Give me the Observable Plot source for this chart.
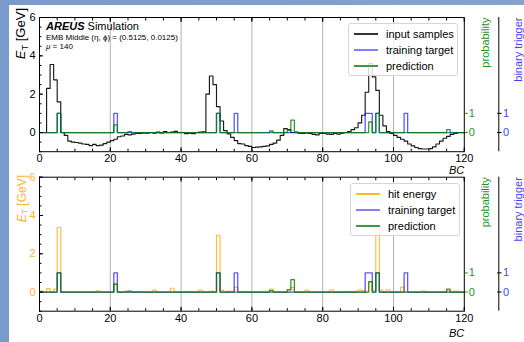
<!DOCTYPE html>
<html><head><meta charset="utf-8">
<script src="https://cdn.jsdelivr.net/npm/d3@7"></script>
<script src="https://cdn.jsdelivr.net/npm/@observablehq/plot@0.6"></script>
<style>
html,body{margin:0;padding:0;}
body{width:524px;height:342px;overflow:hidden;background:linear-gradient(90deg,#7a9acb,#86a3cc);font-family:"Liberation Sans",Arial,Helvetica,sans-serif;}
#page{position:absolute;left:9px;top:5px;width:515px;height:337px;background:#fff;}
.panel{position:absolute;left:0;}
.ann{position:absolute;white-space:nowrap;color:#000;}
.ylab{position:absolute;width:90px;text-align:right;transform-origin:0 0;transform:rotate(-90deg);line-height:14px;white-space:nowrap;}
.ylab sub{font-size:0.72em;line-height:0;vertical-align:-0.28em;}
.legend{position:absolute;border:1px solid #d6d6d6;border-radius:3px;background:rgba(255,255,255,0.82);}
.legend .row{position:absolute;left:0;height:0;}
.legend .sw{position:absolute;left:5px;width:24px;}
.legend .lab{position:absolute;left:37px;top:-7px;font-size:11px;line-height:14px;white-space:nowrap;color:#000;}
</style>
</head><body>
<div id="page">
  <div id="top" class="panel" style="top:0px"></div>
  <div id="bot" class="panel" style="top:165px"></div>
</div>
<script>
// ---------------- data ----------------
const bcMax = 120;
// top panel: input samples (E_T, GeV), one value per BC bin [i, i+1)
const inputSamples = [
  0.0, 0.0, 2.3, 3.55, 2.75, 1.6, 0.0, -0.15, -0.45, -0.5,
  -0.52, -0.55, -0.6, -0.62, -0.68, -0.62, -0.68, -0.66, -0.58, -0.5,
  -0.42, -0.35, -0.22, -0.18, -0.1, -0.12, -0.08, -0.05, -0.05, -0.02,
  -0.04, 0.0, -0.03, 0.02, -0.02, 0.05, 0.0, 0.03, 0.06, 0.0,
  0.0, -0.06, -0.03, -0.06, 0.0, 0.02, 0.04, 2.0, 2.95, 2.5,
  1.35, 0.6, 0.1, -0.07, -0.25, -0.42, -0.58, -0.6, -0.68, -0.72,
  -0.78, -0.76, -0.75, -0.72, -0.7, -0.62, -0.55, -0.4, -0.15, 0.2,
  0.15, 0.0, 0.02, -0.03, -0.05, -0.02, -0.05, -0.1, -0.12, -0.05,
  -0.05, -0.08, -0.1, -0.05, -0.08, -0.03, 0.0, 0.05, 0.15, 0.25,
  0.5, 0.9, 2.1, 3.6, 2.9, 2.2, 0.9, 0.35, 0.05, -0.05,
  -0.15, -0.25, -0.35, -0.45, -0.6, -0.7, -0.78, -0.84, -0.86, -0.86,
  -0.84, -0.75, -0.6, -0.45, -0.3, -0.2, -0.1, -0.05, 0.0, 0.0
];
// bottom panel: hit energy (E_T, GeV), sparse bins
const hitBins = [0, 2, 4, 5, 16, 21, 24, 27, 28, 32, 37, 41, 45, 48, 50, 51, 53, 54, 55, 58, 65, 71, 75, 82, 86, 89, 90, 91, 93, 94, 95, 96, 98, 102, 108, 115, 117];
const hitVals = [0.05, 0.18, 0.15, 3.37, 0.07, 0.45, 0.05, 0.03, 0.03, 0.1, 0.2, 0.03, 0.1, 0.05, 2.97, 0.1, 0.05, 0.04, 0.26, 0.03, 0.15, 0.23, 0.1, 0.12, 0.03, 0.04, 0.1, 0.08, 0.52, 0.1, 3.32, 0.1, 0.12, 0.26, 0.05, 0.06, 0.05];
// training target (binary trigger = 1)
const targetBins = [5, 21, 50, 55, 92, 93, 95, 103];
// prediction (probability)
const predBins = [5, 21, 25, 50, 65, 70, 71, 93, 95, 115];
const predVals = [1.0, 0.4, 0.05, 1.0, 0.08, 0.12, 0.65, 0.55, 1.0, 0.15];
// axes
const xTicks = [0, 20, 40, 60, 80, 100, 120];
const xGrid = [20, 40, 60, 80, 100];
const yTicks = [0, 2, 4, 6];
const probTicks = [0, 1];
const trigTicks = [0, 1];
const xMinor = d3.range(0, 121, 5);
const yMinor = d3.range(-1, 6.01, 0.5);

// ---------------- helpers ----------------
function dense(bins, vals) { const a = new Array(bcMax).fill(0); bins.forEach((b, i) => a[b] = vals ? vals[i] : 1); return a; }
function stairs(vals) { const p = vals.map((v, i) => ({bc: i, v})); p.push({bc: vals.length, v: vals[vals.length - 1]}); return p; }
const hitEnergy = dense(hitBins, hitVals);
const trainingTarget = dense(targetBins);
const prediction = dense(predBins, predVals);

const FONT = '"Liberation Sans", Arial, Helvetica, sans-serif';
const PROB = "#1f951f", TRIG = "#4343ff", ORANGE_TXT = "#ffb13d";

function panel({energy, eColor, eOpacity, tickFill, mt, mb, bcDy}) {
  return Plot.plot({
    width: 515, height: 172, marginTop: mt, marginBottom: mb, marginLeft: 30, marginRight: 60.2,
    x: {domain: [0, 120], label: null},
    y: {domain: [-1, 6], label: null},
    style: {background: "transparent", overflow: "visible", fontFamily: FONT, fontSize: "11px", color: "black"},
    marks: [
      Plot.gridX(xGrid, {stroke: "#b3b3b3", strokeOpacity: 1, strokeWidth: 1}),
      Plot.line(stairs(energy), {x: "bc", y: "v", curve: "step-after", stroke: eColor, strokeOpacity: eOpacity, strokeWidth: 1.15}),
      Plot.line(stairs(trainingTarget), {x: "bc", y: "v", curve: "step-after", stroke: "blue", strokeOpacity: 0.65, strokeWidth: 1.3}),
      Plot.line(stairs(prediction), {x: "bc", y: "v", curve: "step-after", stroke: "green", strokeOpacity: 0.8, strokeWidth: 1.3}),
      Plot.frame({stroke: "black", strokeWidth: 1}),
      Plot.axisX(xTicks, {anchor: "bottom", tickSize: 0, tickPadding: 2.5, label: null, fill: "black"}),
      Plot.axisX(xMinor, {anchor: "bottom", tickSize: 2.5, dy: -2.5, fill: "none", label: null}),
      Plot.axisX(xMinor, {anchor: "top", tickSize: 2.5, dy: 2.5, fill: "none", label: null}),
      Plot.axisX(xTicks, {anchor: "bottom", tickSize: 4, dy: -4, fill: "none", label: null}),
      Plot.axisX(xTicks, {anchor: "top", tickSize: 4, dy: 4, fill: "none", label: null}),
      Plot.axisY(yTicks, {anchor: "left", tickSize: 0, tickPadding: 4, fill: tickFill, label: null}),
      Plot.axisY(yMinor, {anchor: "left", tickSize: 2.5, dx: 2.5, fill: "none", label: null}),
      Plot.axisY(yTicks, {anchor: "left", tickSize: 4, dx: 4, fill: "none", label: null}),
      Plot.axisY(probTicks, {anchor: "right", tickSize: 3, tickPadding: 1.5, stroke: PROB, fill: PROB, label: null}),
      Plot.ruleX([120], {dx: 34.5, stroke: "black", strokeWidth: 1}),
      Plot.axisY(trigTicks, {anchor: "right", tickSize: 4.5, dx: 32.3, tickPadding: 2, stroke: "black", fill: TRIG, label: null}),
      Plot.text(["probability"], {frameAnchor: "top-right", dx: 16.9, rotate: -90, textAnchor: "end", fill: PROB, fontSize: 11}),
      Plot.text(["binary trigger"], {frameAnchor: "top-right", dx: 49.5, rotate: -90, textAnchor: "end", fill: TRIG, fontSize: 11}),
      Plot.text(["BC"], {frameAnchor: "bottom-right", dy: bcDy, textAnchor: "end", lineAnchor: "top", fontStyle: "italic", fontSize: 11, fill: "black"})
    ]
  });
}

document.getElementById("top").append(panel({energy: inputSamples, eColor: "black", eOpacity: 0.9, tickFill: "black", mt: 12, mb: 25.8, bcDy: 14}));
document.getElementById("bot").append(panel({energy: hitEnergy, eColor: "orange", eOpacity: 0.75, tickFill: ORANGE_TXT, mt: 6.7, mb: 31.3, bcDy: 17.5}));

// ---------------- annotations & legends ----------------
const page = document.getElementById("page");
function add(html) { page.insertAdjacentHTML("beforeend", html); }
add(`<div class="ann" style="left:37px;top:16.4px;font-size:11px;line-height:11px"><b><i>AREUS</i></b> Simulation</div>`);
add(`<div class="ann" style="left:37px;top:28.9px;font-size:8px;line-height:8px">EMB Middle (η, ϕ) = (0.5125, 0.0125)</div>`);
add(`<div class="ann" style="left:37px;top:38.3px;font-size:8px;line-height:8px"><i>μ</i> = 140</div>`);
add(`<div class="ylab" style="left:4.5px;top:${3 + 90}px;font-size:13px;color:#000"><i>E</i><sub>T</sub> [GeV]</div>`);
add(`<div class="ylab" style="left:5.5px;top:${170 + 90}px;font-size:12px;color:${ORANGE_TXT}"><i>E</i><sub>T</sub> [GeV]</div>`);

function legend(left, top, entries) {
  const rows = entries.map((e, i) => `<div class="row" style="top:${10 + i * 16}px"><div class="sw" style="top:-1px;height:2px;background:${e.c}"></div><div class="lab">${e.t}</div></div>`).join("");
  add(`<div class="legend" style="left:${left}px;top:${top}px;width:108px;height:50.5px">${rows}</div>`);
}
legend(339, 18, [
  {t: "input samples", c: "#333333"},
  {t: "training target", c: "#7f7fff"},
  {t: "prediction", c: "#3a9d3a"}
]);
legend(341, 178, [
  {t: "hit energy", c: "#ffb52e"},
  {t: "training target", c: "#7f7fff"},
  {t: "prediction", c: "#3a9d3a"}
]);
</script>
</body></html>
